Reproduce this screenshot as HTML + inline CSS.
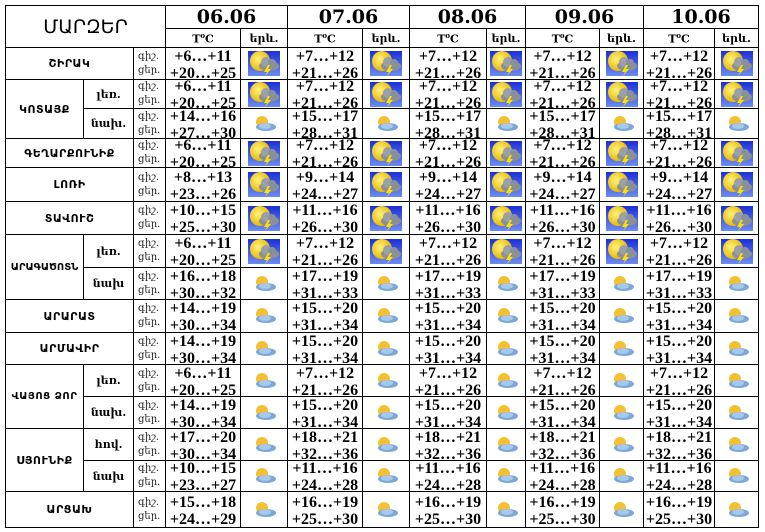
<!DOCTYPE html>
<html><head><meta charset="utf-8">
<style>
body{margin:0;background:#fff;width:765px;height:532px;overflow:hidden;}
table{position:absolute;left:5px;top:5px;border-collapse:collapse;table-layout:fixed;font-family:"Liberation Serif","DejaVu Serif",serif;}
td{border:1px solid #000;padding:0;text-align:center;vertical-align:middle;overflow:hidden;}
.r{font-family:"DejaVu Sans",sans-serif;font-weight:bold;font-size:11px;letter-spacing:0.5px;}
.s{font-family:"DejaVu Serif",serif;font-weight:bold;font-size:11px;}
.q{font-family:"DejaVu Serif",serif;font-size:10px;color:#222;text-align:left;padding-left:4px;}
.q div{height:24px;line-height:14px;margin-top:-4px;}
.t{font-weight:bold;font-size:16px;}
.t div{height:24px;line-height:17px;margin-top:-8px;}
.d{font-weight:bold;font-size:19px;font-family:"DejaVu Serif",serif;}
.h{font-weight:bold;font-size:11px;font-family:"DejaVu Serif",serif;}
svg{display:block;margin:0 auto;}
</style></head><body>
<svg width="0" height="0" style="position:absolute">
<defs>
<linearGradient id="bg" x1="0" y1="0" x2="0" y2="1"><stop offset="0" stop-color="#1a2fd8"/><stop offset="1" stop-color="#6d8cf0"/></linearGradient>
<radialGradient id="sun" cx="0.4" cy="0.4" r="0.6"><stop offset="0" stop-color="#fff27a"/><stop offset="1" stop-color="#e8b800"/></radialGradient>
<symbol id="th" viewBox="0 0 32 25"><rect width="32" height="25" fill="url(#bg)"/><circle cx="12" cy="10" r="10" fill="url(#sun)"/><ellipse cx="21" cy="15" rx="10" ry="5" fill="#8a8f98"/><circle cx="18" cy="11" r="5" fill="#9aa0a8"/><circle cx="24" cy="12" r="4" fill="#8a9098"/><path d="M20 14 L16 21 L19 21 L17 25 L23 18 L20 18 L22 14Z" fill="#ffe000"/></symbol>
<symbol id="cl" viewBox="0 0 26 18"><circle cx="11" cy="7" r="6" fill="#f5c030"/><ellipse cx="15" cy="12" rx="10" ry="4" fill="#7aa8d8"/><ellipse cx="14" cy="11" rx="6" ry="3" fill="#a8c8ea"/></symbol>
</defs></svg>
<table>
<colgroup><col style="width:78px"><col style="width:50px"><col style="width:32px"><col style="width:75px"><col style="width:47px"><col style="width:75px"><col style="width:47px"><col style="width:77px"><col style="width:39px"><col style="width:74px"><col style="width:44px"><col style="width:71px"><col style="width:44px"></colgroup>
<tr style="height:22px"><td colspan="3" rowspan="2" class="d" style="font-family:'DejaVu Sans',sans-serif;font-weight:normal">ՄԱՐԶԵՐ</td><td colspan="2" class="d">06.06</td><td colspan="2" class="d">07.06</td><td colspan="2" class="d">08.06</td><td colspan="2" class="d">09.06</td><td colspan="2" class="d">10.06</td></tr>
<tr style="height:19px"><td class="h">T<sup style="font-size:7px">o</sup>C</td><td class="h">երև.</td><td class="h">T<sup style="font-size:7px">o</sup>C</td><td class="h">երև.</td><td class="h">T<sup style="font-size:7px">o</sup>C</td><td class="h">երև.</td><td class="h">T<sup style="font-size:7px">o</sup>C</td><td class="h">երև.</td><td class="h">T<sup style="font-size:7px">o</sup>C</td><td class="h">երև.</td></tr>

<tr style="height:32px"><td colspan="2" class="r">ՇԻՐԱԿ</td><td class="q"><div>գիշ.<br>ցեր.</div></td><td class="t"><div>+6…+11<br>+20…+25</div></td><td><svg width="32" height="25"><use href="#th"/></svg></td><td class="t"><div>+7…+12<br>+21…+26</div></td><td><svg width="32" height="25"><use href="#th"/></svg></td><td class="t"><div>+7…+12<br>+21…+26</div></td><td><svg width="32" height="25"><use href="#th"/></svg></td><td class="t"><div>+7…+12<br>+21…+26</div></td><td><svg width="32" height="25"><use href="#th"/></svg></td><td class="t"><div>+7…+12<br>+21…+26</div></td><td><svg width="32" height="25"><use href="#th"/></svg></td></tr>

<tr style="height:29px"><td rowspan="2" class="r">ԿՈՏԱՅՔ</td><td class="s">լեռ.</td><td class="q"><div>գիշ.<br>ցեր.</div></td><td class="t"><div>+6…+11<br>+20…+25</div></td><td><svg width="32" height="25"><use href="#th"/></svg></td><td class="t"><div>+7…+12<br>+21…+26</div></td><td><svg width="32" height="25"><use href="#th"/></svg></td><td class="t"><div>+7…+12<br>+21…+26</div></td><td><svg width="32" height="25"><use href="#th"/></svg></td><td class="t"><div>+7…+12<br>+21…+26</div></td><td><svg width="32" height="25"><use href="#th"/></svg></td><td class="t"><div>+7…+12<br>+21…+26</div></td><td><svg width="32" height="25"><use href="#th"/></svg></td></tr>
<tr style="height:30px"><td class="s">նախ.</td><td class="q"><div>գիշ.<br>ցեր.</div></td><td class="t"><div>+14…+16<br>+27…+30</div></td><td><svg width="26" height="18"><use href="#cl"/></svg></td><td class="t"><div>+15…+17<br>+28…+31</div></td><td><svg width="26" height="18"><use href="#cl"/></svg></td><td class="t"><div>+15…+17<br>+28…+31</div></td><td><svg width="26" height="18"><use href="#cl"/></svg></td><td class="t"><div>+15…+17<br>+28…+31</div></td><td><svg width="26" height="18"><use href="#cl"/></svg></td><td class="t"><div>+15…+17<br>+28…+31</div></td><td><svg width="26" height="18"><use href="#cl"/></svg></td></tr>

<tr style="height:29px"><td colspan="2" class="r">ԳԵՂԱՐՔՈՒՆԻՔ</td><td class="q"><div>գիշ.<br>ցեր.</div></td><td class="t"><div>+6…+11<br>+20…+25</div></td><td><svg width="32" height="25"><use href="#th"/></svg></td><td class="t"><div>+7…+12<br>+21…+26</div></td><td><svg width="32" height="25"><use href="#th"/></svg></td><td class="t"><div>+7…+12<br>+21…+26</div></td><td><svg width="32" height="25"><use href="#th"/></svg></td><td class="t"><div>+7…+12<br>+21…+26</div></td><td><svg width="32" height="25"><use href="#th"/></svg></td><td class="t"><div>+7…+12<br>+21…+26</div></td><td><svg width="32" height="25"><use href="#th"/></svg></td></tr>

<tr style="height:34px"><td colspan="2" class="r">ԼՈՌԻ</td><td class="q"><div>գիշ.<br>ցեր.</div></td><td class="t"><div>+8…+13<br>+23…+26</div></td><td><svg width="32" height="25"><use href="#th"/></svg></td><td class="t"><div>+9…+14<br>+24…+27</div></td><td><svg width="32" height="25"><use href="#th"/></svg></td><td class="t"><div>+9…+14<br>+24…+27</div></td><td><svg width="32" height="25"><use href="#th"/></svg></td><td class="t"><div>+9…+14<br>+24…+27</div></td><td><svg width="32" height="25"><use href="#th"/></svg></td><td class="t"><div>+9…+14<br>+24…+27</div></td><td><svg width="32" height="25"><use href="#th"/></svg></td></tr>

<tr style="height:33px"><td colspan="2" class="r">ՏԱՎՈՒՇ</td><td class="q"><div>գիշ.<br>ցեր.</div></td><td class="t"><div>+10…+15<br>+25…+30</div></td><td><svg width="32" height="25"><use href="#th"/></svg></td><td class="t"><div>+11…+16<br>+26…+30</div></td><td><svg width="32" height="25"><use href="#th"/></svg></td><td class="t"><div>+11…+16<br>+26…+30</div></td><td><svg width="32" height="25"><use href="#th"/></svg></td><td class="t"><div>+11…+16<br>+26…+30</div></td><td><svg width="32" height="25"><use href="#th"/></svg></td><td class="t"><div>+11…+16<br>+26…+30</div></td><td><svg width="32" height="25"><use href="#th"/></svg></td></tr>

<tr style="height:33px"><td rowspan="2" class="r" style="font-size:10px;letter-spacing:0">ԱՐԱԳԱԾՈՏՆ</td><td class="s">լեռ.</td><td class="q"><div>գիշ.<br>ցեր.</div></td><td class="t"><div>+6…+11<br>+20…+25</div></td><td><svg width="32" height="25"><use href="#th"/></svg></td><td class="t"><div>+7…+12<br>+21…+26</div></td><td><svg width="32" height="25"><use href="#th"/></svg></td><td class="t"><div>+7…+12<br>+21…+26</div></td><td><svg width="32" height="25"><use href="#th"/></svg></td><td class="t"><div>+7…+12<br>+21…+26</div></td><td><svg width="32" height="25"><use href="#th"/></svg></td><td class="t"><div>+7…+12<br>+21…+26</div></td><td><svg width="32" height="25"><use href="#th"/></svg></td></tr>
<tr style="height:32px"><td class="s">նախ</td><td class="q"><div>գիշ.<br>ցեր.</div></td><td class="t"><div>+16…+18<br>+30…+32</div></td><td><svg width="26" height="18"><use href="#cl"/></svg></td><td class="t"><div>+17…+19<br>+31…+33</div></td><td><svg width="26" height="18"><use href="#cl"/></svg></td><td class="t"><div>+17…+19<br>+31…+33</div></td><td><svg width="26" height="18"><use href="#cl"/></svg></td><td class="t"><div>+17…+19<br>+31…+33</div></td><td><svg width="26" height="18"><use href="#cl"/></svg></td><td class="t"><div>+17…+19<br>+31…+33</div></td><td><svg width="26" height="18"><use href="#cl"/></svg></td></tr>

<tr style="height:33px"><td colspan="2" class="r">ԱՐԱՐԱՏ</td><td class="q"><div>գիշ.<br>ցեր.</div></td><td class="t"><div>+14…+19<br>+30…+34</div></td><td><svg width="26" height="18"><use href="#cl"/></svg></td><td class="t"><div>+15…+20<br>+31…+34</div></td><td><svg width="26" height="18"><use href="#cl"/></svg></td><td class="t"><div>+15…+20<br>+31…+34</div></td><td><svg width="26" height="18"><use href="#cl"/></svg></td><td class="t"><div>+15…+20<br>+31…+34</div></td><td><svg width="26" height="18"><use href="#cl"/></svg></td><td class="t"><div>+15…+20<br>+31…+34</div></td><td><svg width="26" height="18"><use href="#cl"/></svg></td></tr>

<tr style="height:32px"><td colspan="2" class="r">ԱՐՄԱՎԻՐ</td><td class="q"><div>գիշ.<br>ցեր.</div></td><td class="t"><div>+14…+19<br>+30…+34</div></td><td><svg width="26" height="18"><use href="#cl"/></svg></td><td class="t"><div>+15…+20<br>+31…+34</div></td><td><svg width="26" height="18"><use href="#cl"/></svg></td><td class="t"><div>+15…+20<br>+31…+34</div></td><td><svg width="26" height="18"><use href="#cl"/></svg></td><td class="t"><div>+15…+20<br>+31…+34</div></td><td><svg width="26" height="18"><use href="#cl"/></svg></td><td class="t"><div>+15…+20<br>+31…+34</div></td><td><svg width="26" height="18"><use href="#cl"/></svg></td></tr>

<tr style="height:32px"><td rowspan="2" class="r" style="font-size:10px">ՎԱՅՈՑ ՁՈՐ</td><td class="s">լեռ.</td><td class="q"><div>գիշ.<br>ցեր.</div></td><td class="t"><div>+6…+11<br>+20…+25</div></td><td><svg width="26" height="18"><use href="#cl"/></svg></td><td class="t"><div>+7…+12<br>+21…+26</div></td><td><svg width="26" height="18"><use href="#cl"/></svg></td><td class="t"><div>+7…+12<br>+21…+26</div></td><td><svg width="26" height="18"><use href="#cl"/></svg></td><td class="t"><div>+7…+12<br>+21…+26</div></td><td><svg width="26" height="18"><use href="#cl"/></svg></td><td class="t"><div>+7…+12<br>+21…+26</div></td><td><svg width="26" height="18"><use href="#cl"/></svg></td></tr>
<tr style="height:32px"><td class="s">նախ.</td><td class="q"><div>գիշ.<br>ցեր.</div></td><td class="t"><div>+14…+19<br>+30…+34</div></td><td><svg width="26" height="18"><use href="#cl"/></svg></td><td class="t"><div>+15…+20<br>+31…+34</div></td><td><svg width="26" height="18"><use href="#cl"/></svg></td><td class="t"><div>+15…+20<br>+31…+34</div></td><td><svg width="26" height="18"><use href="#cl"/></svg></td><td class="t"><div>+15…+20<br>+31…+34</div></td><td><svg width="26" height="18"><use href="#cl"/></svg></td><td class="t"><div>+15…+20<br>+31…+34</div></td><td><svg width="26" height="18"><use href="#cl"/></svg></td></tr>

<tr style="height:32px"><td rowspan="2" class="r">ՍՅՈՒՆԻՔ</td><td class="s">հով.</td><td class="q"><div>գիշ.<br>ցեր.</div></td><td class="t"><div>+17…+20<br>+30…+34</div></td><td><svg width="26" height="18"><use href="#cl"/></svg></td><td class="t"><div>+18…+21<br>+32…+36</div></td><td><svg width="26" height="18"><use href="#cl"/></svg></td><td class="t"><div>+18…+21<br>+32…+36</div></td><td><svg width="26" height="18"><use href="#cl"/></svg></td><td class="t"><div>+18…+21<br>+32…+36</div></td><td><svg width="26" height="18"><use href="#cl"/></svg></td><td class="t"><div>+18…+21<br>+32…+36</div></td><td><svg width="26" height="18"><use href="#cl"/></svg></td></tr>
<tr style="height:31px"><td class="s">նախ</td><td class="q"><div>գիշ.<br>ցեր.</div></td><td class="t"><div>+10…+15<br>+23…+27</div></td><td><svg width="26" height="18"><use href="#cl"/></svg></td><td class="t"><div>+11…+16<br>+24…+28</div></td><td><svg width="26" height="18"><use href="#cl"/></svg></td><td class="t"><div>+11…+16<br>+24…+28</div></td><td><svg width="26" height="18"><use href="#cl"/></svg></td><td class="t"><div>+11…+16<br>+24…+28</div></td><td><svg width="26" height="18"><use href="#cl"/></svg></td><td class="t"><div>+11…+16<br>+24…+28</div></td><td><svg width="26" height="18"><use href="#cl"/></svg></td></tr>

<tr style="height:36px"><td colspan="2" class="r">ԱՐՑԱԽ</td><td class="q"><div>գիշ.<br>ցեր.</div></td><td class="t"><div>+15…+18<br>+24…+29</div></td><td><svg width="26" height="18"><use href="#cl"/></svg></td><td class="t"><div>+16…+19<br>+25…+30</div></td><td><svg width="26" height="18"><use href="#cl"/></svg></td><td class="t"><div>+16…+19<br>+25…+30</div></td><td><svg width="26" height="18"><use href="#cl"/></svg></td><td class="t"><div>+16…+19<br>+25…+30</div></td><td><svg width="26" height="18"><use href="#cl"/></svg></td><td class="t"><div>+16…+19<br>+25…+30</div></td><td><svg width="26" height="18"><use href="#cl"/></svg></td></tr>
</table>
</body></html>
